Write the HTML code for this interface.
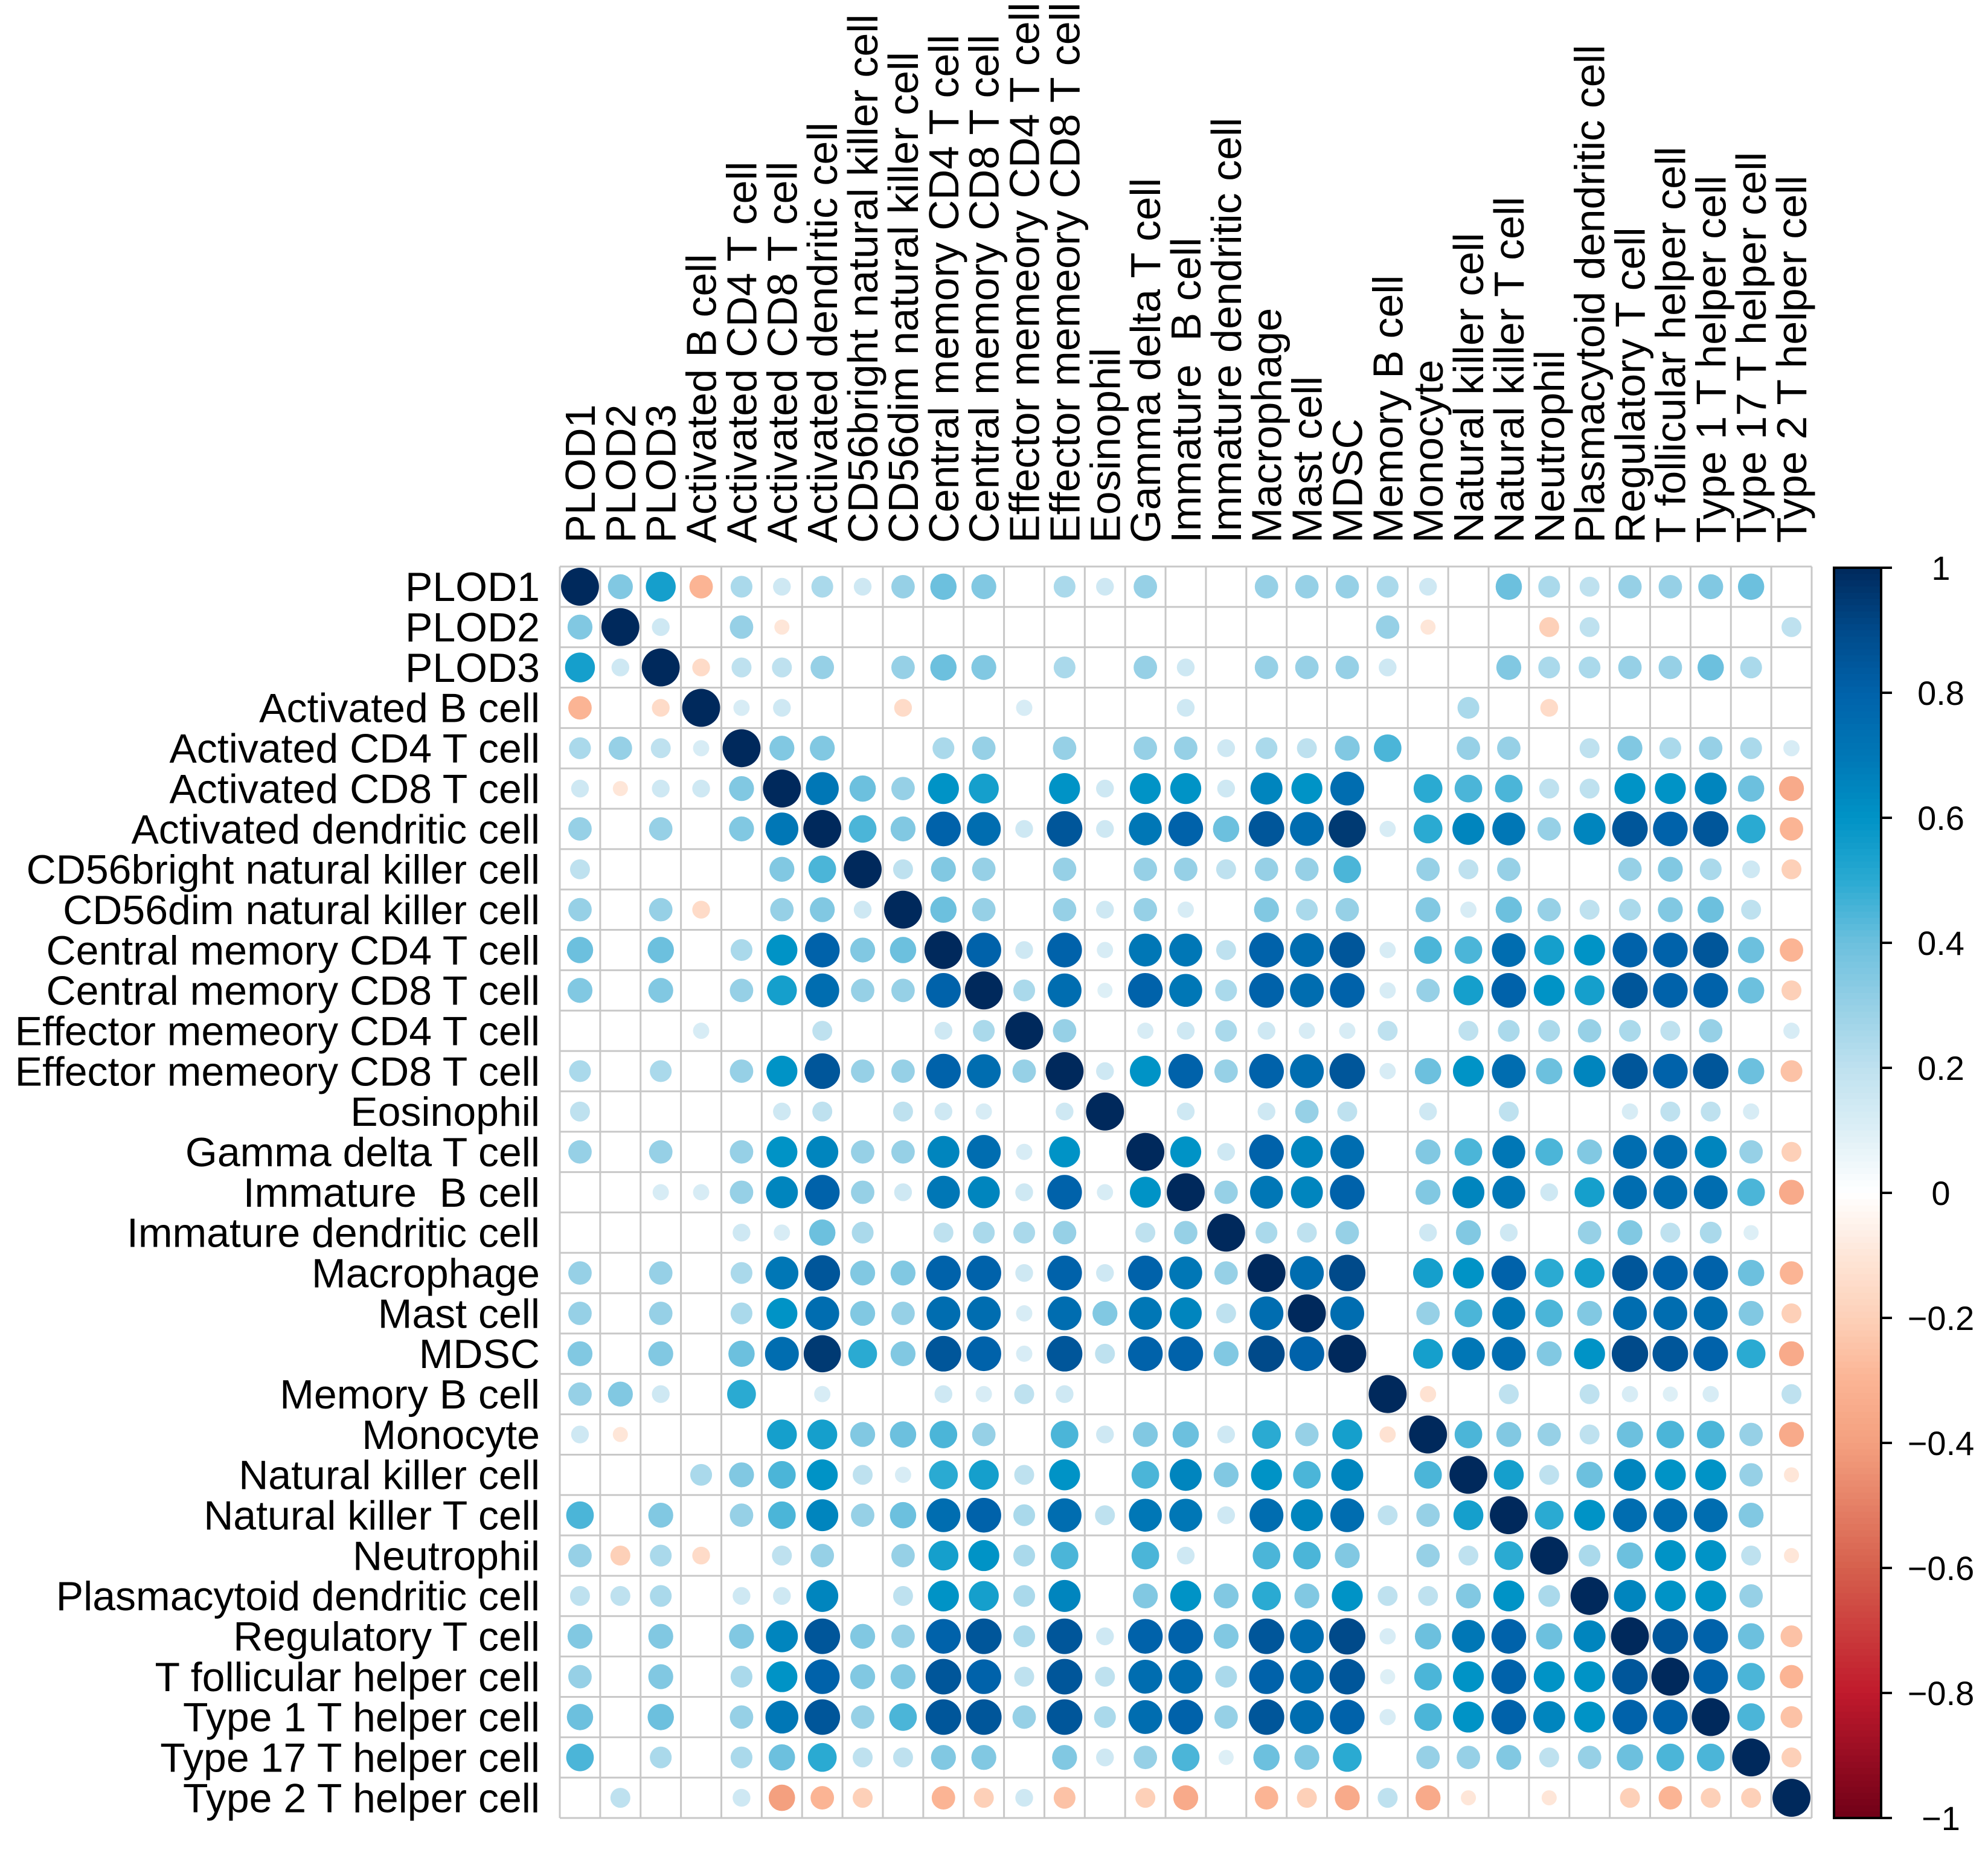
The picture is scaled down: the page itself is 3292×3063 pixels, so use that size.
<!DOCTYPE html>
<html><head><meta charset="utf-8"><style>
html,body{margin:0;padding:0;background:#fff;}
svg{display:block;}
text{font-family:"Liberation Sans",Arial,sans-serif;fill:#000;}
</style></head>
<body>
<svg id="chart" xmlns="http://www.w3.org/2000/svg" width="3292" height="3063" viewBox="0 0 3292 3063">
<rect x="0" y="0" width="3292" height="3063" fill="#fff"/>
<g id="grid"></g>
<g id="cells"></g>
<g id="rowlabels"></g>
<g id="collabels"></g>
<g id="legend"></g>
</svg>
<script>
const labels = ["PLOD1","PLOD2","PLOD3","Activated B cell","Activated CD4 T cell","Activated CD8 T cell","Activated dendritic cell","CD56bright natural killer cell","CD56dim natural killer cell","Central memory CD4 T cell","Central memory CD8 T cell","Effector memeory CD4 T cell","Effector memeory CD8 T cell","Eosinophil","Gamma delta T cell","Immature  B cell","Immature dendritic cell","Macrophage","Mast cell","MDSC","Memory B cell","Monocyte","Natural killer cell","Natural killer T cell","Neutrophil","Plasmacytoid dendritic cell","Regulatory T cell","T follicular helper cell","Type 1 T helper cell","Type 17 T helper cell","Type 2 T helper cell"];
const row00 = [1,.35,.55,-.3,.25,.15,.25,.15,.3,.4,.35,0,.25,.15,.3,0,0,.3,.3,.3,.25,.15,0,.4,.25,.2,.3,.3,.35,.4,0];
const row01 = [.35,1,.15,0,.3,-.1,0,0,0,0,0,0,0,0,0,0,0,0,0,0,.3,-.1,0,0,-.2,.2,0,0,0,0,.2];
const row02 = [.55,.15,1,-.15,.2,.2,.3,0,.3,.4,.35,0,.25,0,.3,.15,0,.3,.3,.3,.15,0,0,.35,.25,.25,.3,.3,.4,.25,0];
const row03 = [-.3,0,-.15,1,.12,.15,0,0,-.15,0,0,.12,0,0,0,.15,0,0,0,0,0,0,.25,0,-.15,0,0,0,0,0,0];
const row04 = [.25,.3,.2,.12,1,.35,.35,0,0,.25,.3,0,.3,0,.3,.3,.15,.25,.2,.35,.45,0,.3,.3,0,.2,.35,.25,.3,.25,.12];
const row05 = [.15,-.1,.15,.15,.35,1,.7,.4,.3,.6,.55,0,.6,.15,.6,.6,.15,.65,.6,.75,0,.5,.45,.45,.2,.2,.6,.6,.65,.4,-.35];
const row06 = [.3,0,.3,0,.35,.7,1,.45,.35,.8,.75,.15,.85,.15,.7,.8,.4,.85,.75,.95,.12,.5,.65,.7,.3,.65,.85,.8,.85,.5,-.3];
const row07 = [.2,0,0,0,0,.35,.45,1,.2,.35,.3,0,.3,0,.3,.3,.2,.3,.3,.45,0,.3,.2,.3,0,0,.3,.35,.25,.15,-.2];
const row08 = [.3,0,.3,-.15,0,.3,.35,.15,1,.4,.3,0,.3,.15,.3,.12,0,.35,.25,.3,0,.35,.12,.4,.3,.2,.25,.35,.4,.2,0];
const row09 = [.4,0,.4,0,.25,.6,.8,.35,.4,1,.8,.15,.8,.12,.7,.7,.2,.8,.75,.85,.12,.45,.45,.75,.55,.6,.8,.8,.85,.4,-.3];
const row10 = [.35,0,.35,0,.3,.55,.75,.3,.3,.8,1,.25,.75,.1,.8,.7,.25,.8,.75,.8,.12,.3,.55,.8,.6,.55,.85,.8,.8,.4,-.2];
const row11 = [0,0,0,.12,0,0,.2,0,0,.15,.25,1,.3,0,.12,.15,.25,.15,.12,.12,.2,0,.2,.25,.25,.3,.25,.2,.3,0,.12];
const row12 = [.25,0,.25,0,.3,.6,.85,.3,.3,.8,.75,.3,1,.15,.6,.8,.3,.8,.75,.85,.12,.4,.6,.75,.4,.65,.85,.8,.85,.4,-.25];
const row13 = [.2,0,0,0,0,.15,.2,0,.2,.15,.12,0,.15,1,0,.15,0,.15,.3,.2,0,.15,0,.2,0,0,.12,.2,.2,.12,0];
const row14 = [.3,0,.3,0,.3,.6,.65,.3,.3,.65,.75,.12,.6,0,1,.6,.15,.8,.65,.75,0,.35,.45,.7,.45,.35,.75,.75,.65,.3,-.2];
const row15 = [0,0,.12,.12,.3,.65,.8,.3,.15,.7,.65,.15,.8,.12,.6,1,.3,.7,.65,.8,0,.35,.65,.7,.15,.55,.75,.75,.75,.45,-.35];
const row16 = [0,0,0,0,.15,.12,.4,.25,0,.2,.25,.25,.3,0,.2,.3,1,.25,.2,.3,0,.15,.35,.15,0,.3,.35,.2,.25,.1,0];
const row17 = [.3,0,.3,0,.25,.7,.85,.35,.35,.8,.8,.15,.8,.15,.8,.7,.3,1,.75,.9,0,.55,.6,.8,.5,.55,.85,.8,.8,.4,-.3];
const row18 = [.3,0,.3,0,.25,.6,.75,.35,.3,.75,.75,.12,.75,.35,.7,.65,.2,.75,1,.75,0,.3,.45,.7,.45,.35,.75,.75,.75,.35,-.2];
const row19 = [.35,0,.35,0,.4,.75,.95,.5,.35,.85,.8,.12,.85,.2,.8,.8,.35,.9,.8,1,0,.55,.7,.75,.35,.6,.9,.85,.8,.5,-.35];
const row20 = [.3,.35,.15,0,.5,0,.12,0,0,.15,.12,.2,.15,0,0,0,0,0,0,0,1,-.12,0,.2,0,.2,.12,.1,.12,0,.2];
const row21 = [.15,-.1,0,0,0,.55,.55,.35,.4,.45,.3,0,.45,.15,.35,.4,.15,.5,.3,.55,-.12,1,.45,.35,.3,.2,.4,.45,.45,.3,-.35];
const row22 = [0,0,0,.25,.35,.45,.6,.2,.12,.5,.55,.2,.6,0,.45,.65,.35,.6,.45,.65,0,.45,1,.55,.2,.4,.65,.6,.6,.3,-.1];
const row23 = [.45,0,.35,0,.3,.45,.65,.3,.4,.75,.8,.25,.75,.2,.7,.7,.15,.75,.65,.75,.2,.3,.55,1,.5,.6,.75,.75,.75,.35,0];
const row24 = [.3,-.2,.25,-.15,0,.2,.3,0,.3,.55,.6,.25,.45,0,.45,.15,0,.45,.45,.35,0,.3,.2,.5,1,.25,.4,.6,.6,.2,-.1];
const row25 = [.2,.2,.25,0,.15,.15,.65,0,.2,.6,.55,.25,.65,0,.35,.6,.35,.5,.35,.6,.2,.2,.35,.6,.25,1,.65,.6,.6,.3,0];
const row26 = [.35,0,.35,0,.35,.65,.85,.35,.3,.8,.85,.25,.85,.15,.8,.8,.35,.85,.75,.9,.12,.4,.7,.8,.4,.65,1,.85,.8,.4,-.25];
const row27 = [.3,0,.35,0,.25,.6,.8,.35,.35,.85,.8,.2,.85,.2,.75,.75,.25,.8,.75,.85,.1,.45,.6,.8,.6,.6,.85,1,.8,.45,-.3];
const row28 = [.4,0,.4,0,.3,.7,.85,.3,.45,.85,.85,.3,.85,.25,.75,.8,.3,.85,.75,.8,.12,.45,.6,.8,.65,.6,.8,.8,1,.45,-.25];
const row29 = [.45,0,.25,0,.25,.4,.5,.2,.2,.35,.35,0,.35,.15,.3,.45,.1,.4,.35,.5,0,.3,.3,.35,.2,.3,.4,.45,.45,1,-.2];
const row30 = [0,.2,0,0,.15,-.4,-.3,-.2,0,-.3,-.2,.15,-.25,0,-.2,-.35,0,-.3,-.2,-.35,.2,-.35,-.1,0,-.1,0,-.2,-.3,-.2,-.2,1];
const matrix = [row00,row01,row02,row03,row04,row05,row06,row07,row08,row09,row10,row11,row12,row13,row14,row15,row16,row17,row18,row19,row20,row21,row22,row23,row24,row25,row26,row27,row28,row29,row30];
const legendTicks = [1,0.8,0.6,0.4,0.2,0,-0.2,-0.4,-0.6,-0.8,-1];

const NS = "http://www.w3.org/2000/svg";
const X0 = 927, Y0 = 938, X1 = 3000, Y1 = 3010;
const n = labels.length;
const cw = (X1 - X0) / n, ch = (Y1 - Y0) / n;
const FSR = 68, FSC = 70;
function xPos(j){ return X0 + (j + 0.5) * cw; }
function yPos(i){ return Y0 + (i + 0.5) * ch; }
const stops = [[-1,[112,0,24]],[-0.8,[192,26,44]],[-0.6,[214,96,77]],[-0.4,[244,160,127]],[-0.3,[251,180,148]],[-0.2,[253,208,184]],[-0.1,[254,230,216]],[0,[255,255,255]],[0.1,[221,239,246]],[0.2,[190,225,239]],[0.3,[150,208,230]],[0.4,[108,192,222]],[0.5,[42,170,210]],[0.6,[0,147,198]],[0.7,[0,119,182]],[0.8,[0,98,170]],[0.9,[0,74,138]],[1,[0,41,92]]];
function color(v){
  v = Math.max(-1, Math.min(1, v));
  for (let k = 0; k < stops.length - 1; k++){
    const a = stops[k], b = stops[k+1];
    if (v >= a[0] && v <= b[0]){
      const t = (v - a[0]) / (b[0] - a[0]);
      const c = a[1].map((x, q) => Math.round(x + (b[1][q] - x) * t));
      return "rgb(" + c.join(",") + ")";
    }
  }
  return "#fff";
}
function mk(tag, attrs, parent){
  const e = document.createElementNS(NS, tag);
  for (const k in attrs) e.setAttribute(k, attrs[k]);
  parent.appendChild(e);
  return e;
}
const grid = document.getElementById("grid");
for (let k = 0; k <= n; k++){
  const gx = mk("line", {x1: X0 + k*cw, x2: X0 + k*cw, y1: Y0, y2: Y1, stroke: "#c8c8c8", "stroke-width": 3}, grid);
  
  
  const gy = mk("line", {x1: X0, x2: X1, y1: Y0 + k*ch, y2: Y0 + k*ch, stroke: "#c8c8c8", "stroke-width": 3}, grid);
  
  
}
const cells = document.getElementById("cells");
const rmax = 0.47 * cw;
for (let i = 0; i < n; i++){
  for (let j = 0; j < n; j++){
    const v = matrix[i][j];
    if (!v) continue;
    const c = mk("circle", {cx: xPos(j), cy: yPos(i), r: rmax * Math.pow(Math.abs(v), 0.4), fill: color(v)}, cells);
    
    
  }
}
const rl = document.getElementById("rowlabels");
const cl = document.getElementById("collabels");
for (let i = 0; i < n; i++){
  const t = mk("text", {x: X0 - 33, y: yPos(i) + 0.35*FSR, "text-anchor": "end", "font-size": FSR, style: "white-space:pre"}, rl);
  t.textContent = labels[i];
  
  
  const bx = xPos(i) + 0.35*FSC, by = 899;
  const u = mk("text", {x: bx, y: by, "text-anchor": "start", "font-size": FSC, transform: "rotate(-90 " + bx + " " + by + ")", style: "white-space:pre"}, cl);
  u.textContent = labels[i];
  
  
}
const lg = document.getElementById("legend");
const LX0 = 3037, LX1 = 3115, LY0 = 940, LY1 = 3010;
function ly(v){ return LY0 + (1 - v) / 2 * (LY1 - LY0); }
const steps = 200;
for (let k = 0; k < steps; k++){
  const v = 1 - 2 * (k + 0.5) / steps;
  const y = LY0 + k * (LY1 - LY0) / steps;
  const r = mk("rect", {x: LX0, y: y, width: LX1 - LX0, height: (LY1 - LY0)/steps + 1, fill: color(v)}, lg);
  
  
}
const border = mk("rect", {x: LX0, y: LY0, width: LX1 - LX0, height: LY1 - LY0, fill: "none", stroke: "#000", "stroke-width": 4}, lg);


legendTicks.forEach(v => {
  const tk = mk("line", {x1: LX1, x2: LX1 + 18, y1: ly(v), y2: ly(v), stroke: "#000", "stroke-width": 4}, lg);
  
  
  const tl = mk("text", {x: 3214, y: ly(v) + 20, "text-anchor": "middle", "font-size": 56}, lg);
  tl.textContent = (v < 0 ? "\u2212" : "") + String(Math.abs(v));
  
  
});
</script>
</body></html>
